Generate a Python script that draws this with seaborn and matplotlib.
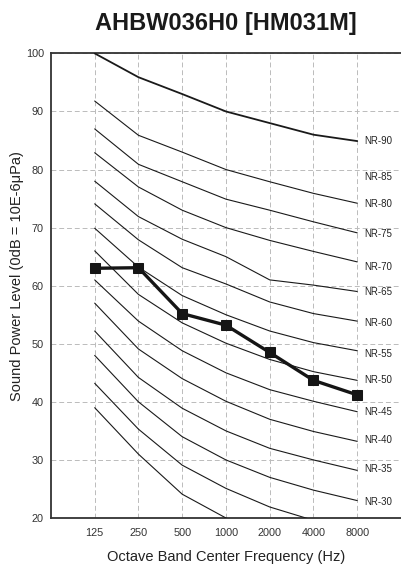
import numpy as np
import pandas as pd
import matplotlib
matplotlib.use("Agg")
import matplotlib.pyplot as plt
import seaborn as sns

# Octave bands and NR curves
freqs = ["125", "250", "500", "1000", "2000", "4000", "8000"]

nr_curves = {
    "NR-90": [100.0, 95.9, 93.0, 90.0, 88.0, 86.0, 84.9],
    "NR-80": [91.8, 85.9, 83.0, 80.0, 77.9, 75.9, 74.2],
    "NR-75": [87.0, 80.9, 77.9, 74.9, 73.0, 71.0, 69.1],
    "NR-70": [82.9, 77.0, 73.0, 70.0, 67.8, 65.9, 64.1],
    "NR-65": [78.0, 71.9, 68.0, 65.0, 61.0, 60.1, 59.0],
    "NR-60": [74.1, 67.9, 63.1, 60.3, 57.2, 55.2, 53.9],
    "NR-55": [69.9, 63.2, 58.3, 55.0, 52.2, 50.2, 48.8],
    "NR-50": [66.0, 58.5, 53.6, 50.1, 47.3, 45.2, 43.7],
    "NR-45": [61.0, 53.9, 48.8, 45.0, 42.1, 40.1, 38.3],
    "NR-40": [57.0, 49.1, 44.0, 40.1, 37.0, 34.9, 33.2],
    "NR-35": [52.2, 44.2, 38.9, 35.0, 32.0, 30.0, 28.2],
    "NR-30": [48.0, 40.0, 34.0, 30.0, 27.0, 24.8, 23.0],
    "NR-25": [43.2, 35.3, 29.1, 25.1, 21.9, 19.6, 17.8],
    "NR-20": [39.0, 31.0, 24.1, 20.0, 16.8, 14.4, 12.6],
}

# right-hand labels and the level at which each sits
nr_labels = ["NR-90", "NR-85", "NR-80", "NR-75", "NR-70", "NR-65", "NR-60",
             "NR-55", "NR-50", "NR-45", "NR-40", "NR-35", "NR-30"]
nr_label_levels = [84.9, 78.7, 74.1, 68.9, 63.3, 59.0, 53.5,
                   48.3, 43.7, 38.2, 33.4, 28.4, 22.7]

# measured unit
unit_levels = [63.0, 63.1, 55.2, 53.2, 48.5, 43.7, 41.2]

sns.set_style("white")
plt.rcParams["font.family"] = ["Liberation Sans", "DejaVu Sans"]

fig = plt.figure(figsize=(4.01, 5.68), dpi=100)
ax = fig.add_axes([0.127, 0.088, 0.873, 0.818])

pos = np.arange(len(freqs))

for name, vals in nr_curves.items():
    lw = 1.3 if name == "NR-90" else 0.8
    sns.lineplot(x=pos, y=vals, ax=ax, color="#1a1a1a", linewidth=lw,
                 zorder=3, clip_on=True)

sns.lineplot(x=pos, y=unit_levels, ax=ax, color="#151515", linewidth=2.4,
             marker="s", markersize=6.5, markeredgecolor="#151515", zorder=5)

for lab, lev in zip(nr_labels, nr_label_levels):
    ax.text(6.15, lev, lab, fontsize=7, va="center", ha="left", color="#222222",
            zorder=6)

ax.set_xlim(-1, 7)
ax.set_ylim(20, 100)
ax.set_xticks(pos)
ax.set_xticklabels(freqs)
ax.set_yticks(np.arange(20, 101, 10))

ax.grid(True, linestyle=(0, (5, 3)), color="#bbbbbb", linewidth=0.7)
ax.set_axisbelow(True)

for side in ["left", "bottom", "top"]:
    ax.spines[side].set_visible(True)
    ax.spines[side].set_color("#333333")
    ax.spines[side].set_linewidth(1.3)
ax.spines["right"].set_visible(False)

ax.tick_params(axis="both", direction="in", length=3, width=0.8,
               colors="#333333", labelsize=7.8, labelcolor="#333333")
ax.tick_params(axis="y", pad=5)
ax.tick_params(axis="x", pad=7)

ax.set_xlabel("Octave Band Center Frequency (Hz)", fontsize=10.5,
              color="#222222", labelpad=9)
ax.set_ylabel("Sound Power Level (0dB = 10E-6μPa)", fontsize=10.5,
              color="#222222", labelpad=8)
ax.yaxis.set_label_coords(-0.077, 0.52)

ax.set_title("AHBW036H0 [HM031M]", fontsize=17, fontweight="bold",
             color="#1a1a1a", pad=17)

fig.savefig("out.png", dpi=100)
